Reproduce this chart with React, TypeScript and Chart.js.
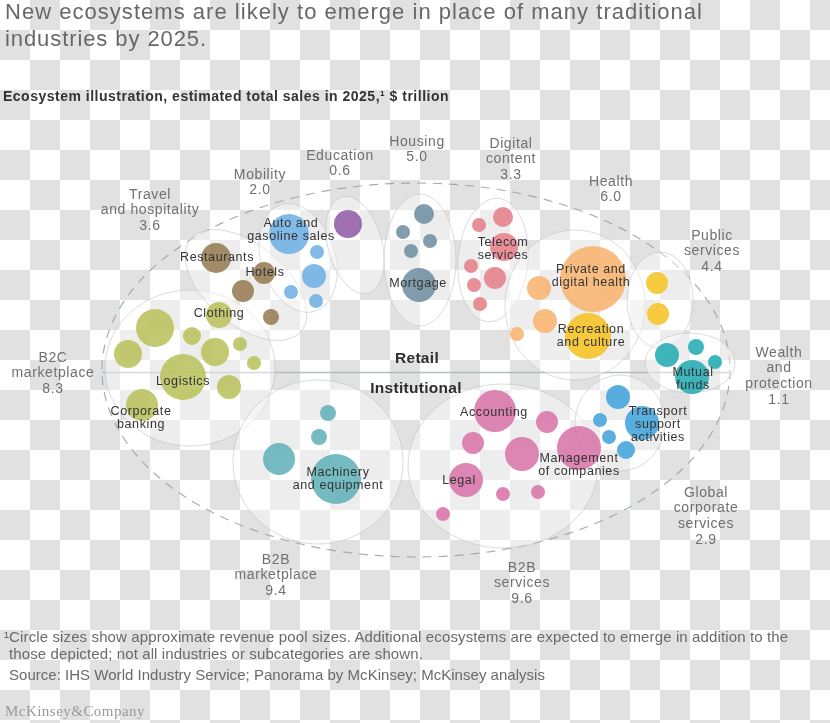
import React, { useEffect, useRef, useMemo } from "react";
import { Chart, registerables } from "chart.js";
Chart.register(...registerables);

const W = 830;
const H = 723;

// ---- Data ----
const ecosystemLines = [
  ["Travel", "and hospitality"],
  ["Mobility"],
  ["Education"],
  ["Housing"],
  ["Digital", "content"],
  ["Health"],
  ["Public", "services"],
  ["Wealth", "and", "protection"],
  ["Global", "corporate", "services"],
  ["B2B", "services"],
  ["B2B", "marketplace"],
  ["B2C", "marketplace"],
];
const ecosystemSales = [3.6, 2.0, 0.6, 5.0, 3.3, 6.0, 4.4, 1.1, 2.9, 9.6, 9.4, 8.3];

const subLabels = [
  ["Auto and", "gasoline sales"],
  ["Restaurants"],
  ["Hotels"],
  ["Clothing"],
  ["Mortgage"],
  ["Telecom", "services"],
  ["Private and", "digital health"],
  ["Recreation", "and culture"],
  ["Mutual", "funds"],
  ["Logistics"],
  ["Corporate", "banking"],
  ["Machinery", "and equipment"],
  ["Accounting"],
  ["Management", "of companies"],
  ["Legal"],
  ["Transport", "support", "activities"],
];

// bubbles: [x, y, radius] in illustration coordinates
const travelBubbles = [[216, 258, 15], [264, 273, 11], [243, 291, 11], [271, 317, 8]];
const mobilityBubbles = [[289, 234, 20], [317, 252, 7], [314, 276, 12], [291, 292, 7], [316, 301, 7]];
const educationBubbles = [[348, 224, 14]];
const housingBubbles = [[424, 214, 10], [403, 232, 7], [430, 241, 7], [411, 251, 7], [419, 285, 17]];
const digitalBubbles = [[503, 217, 10], [479, 225, 7], [504, 247, 14], [471, 266, 7], [495, 278, 11], [474, 285, 7], [480, 304, 7]];
const healthBubbles = [[593, 279, 33], [539, 288, 12], [545, 321, 12], [517, 334, 7]];
const recreationBubbles = [[588, 336, 23]];
const publicBubbles = [[657, 283, 11], [658, 314, 11]];
const wealthBubbles = [[667, 355, 12], [696, 347, 8], [715, 362, 7], [692, 377, 17]];
const b2cBubbles = [[155, 328, 19], [219, 315, 13], [192, 336, 9], [128, 354, 14], [215, 352, 14], [240, 344, 7], [254, 363, 7], [183, 377, 23], [229, 387, 12], [142, 405, 16]];
const b2bMarketBubbles = [[328, 413, 8], [319, 437, 8], [279, 459, 16], [336, 479, 25]];
const b2bServiceBubbles = [[495, 411, 21], [547, 422, 11], [473, 443, 11], [522, 454, 17], [579, 448, 22], [466, 480, 17], [503, 494, 7], [538, 492, 7], [443, 514, 7]];
const globalBubbles = [[618, 397, 12], [600, 420, 7], [642, 423, 17], [609, 437, 7], [626, 450, 9]];

// ---- Layout (positions / styles) ----
const ecosystemLabelPos = [[150, 195], [260, 175], [340, 156], [417, 142], [511, 144], [611, 182], [712, 236], [779, 353], [706, 493], [522, 568], [276, 560], [53, 358]];
const subLabelPos = [[291, 224], [217, 258], [265, 273], [219, 314], [418, 284], [503, 243], [591, 270], [591, 330], [693, 373], [183, 382], [141, 412], [338, 473], [494, 413], [579, 459], [459, 481], [658, 412]];
// cluster blobs: [cx, cy, rx, ry, rotationDeg]
const blobs = [
  [190, 368, 85, 78, 0],
  [246, 285, 72, 40, 40],
  [298, 258, 37, 56, -18],
  [355, 245, 27, 50, -15],
  [420, 260, 36, 66, 0],
  [493, 260, 35, 62, 5],
  [575, 305, 70, 75, 0],
  [660, 300, 33, 48, 0],
  [690, 363, 45, 30, 0],
  [318, 462, 85, 82, 0],
  [503, 466, 95, 82, 0],
  [620, 423, 45, 48, 0],
];

const groups = [
  { data: travelBubbles, color: "rgba(150,124,82,0.88)" },
  { data: mobilityBubbles, color: "rgba(112,176,228,0.88)" },
  { data: educationBubbles, color: "rgba(150,98,170,0.9)" },
  { data: housingBubbles, color: "rgba(112,142,162,0.88)" },
  { data: digitalBubbles, color: "rgba(230,128,138,0.88)" },
  { data: healthBubbles, color: "rgba(248,180,112,0.88)" },
  { data: recreationBubbles, color: "rgba(245,195,40,0.9)" },
  { data: publicBubbles, color: "rgba(245,197,45,0.9)" },
  { data: wealthBubbles, color: "rgba(36,172,178,0.88)" },
  { data: b2cBubbles, color: "rgba(185,192,88,0.86)" },
  { data: b2bMarketBubbles, color: "rgba(100,178,186,0.88)" },
  { data: b2bServiceBubbles, color: "rgba(216,116,168,0.88)" },
  { data: globalBubbles, color: "rgba(66,164,220,0.88)" },
];

const SANS = "'Liberation Sans', Arial, Helvetica, sans-serif";
const NARROW = "'Liberation Sans Narrow', 'Arial Narrow', 'Liberation Sans', Arial, sans-serif";

const decor = {
  id: "decor",
  beforeDatasetsDraw(chart: any) {
    const { ctx, scales } = chart;
    const xs = scales.x, ys = scales.y;
    const px = (v: number) => xs.getPixelForValue(v);
    const py = (v: number) => ys.getPixelForValue(v);
    const sx = Math.abs(px(1) - px(0));
    const sy = Math.abs(py(1) - py(0));
    ctx.save();
    // outer dashed ellipse
    ctx.beginPath();
    ctx.ellipse(px(416), py(370), 314 * sx, 187 * sy, 0, 0, Math.PI * 2);
    ctx.setLineDash([9, 7]);
    ctx.strokeStyle = "rgba(150,166,175,0.9)";
    ctx.lineWidth = 1.2;
    ctx.stroke();
    ctx.setLineDash([]);
    // retail / institutional divider
    ctx.beginPath();
    ctx.moveTo(px(102), py(372.5));
    ctx.lineTo(px(731), py(372.5));
    ctx.strokeStyle = "rgba(175,185,190,0.95)";
    ctx.lineWidth = 1.5;
    ctx.stroke();
    // blobs
    blobs.forEach(([cx, cy, rx, ry, rot]) => {
      ctx.beginPath();
      ctx.ellipse(px(cx), py(cy), rx * sx, ry * sy, (rot * Math.PI) / 180, 0, Math.PI * 2);
      ctx.fillStyle = "rgba(255,255,255,0.42)";
      ctx.fill();
      ctx.strokeStyle = "rgba(190,190,190,0.55)";
      ctx.lineWidth = 1;
      ctx.stroke();
    });
    ctx.restore();
  },
  afterDatasetsDraw(chart: any) {
    const { ctx, scales } = chart;
    const px = (v: number) => scales.x.getPixelForValue(v);
    const py = (v: number) => scales.y.getPixelForValue(v);
    ctx.save();
    ctx.textAlign = "center";
    ctx.textBaseline = "middle";
    // ecosystem labels
    ctx.font = `14px ${SANS}`;
    (ctx as any).letterSpacing = "0.6px";
    ctx.fillStyle = "#707070";
    ecosystemLines.forEach((lines, i) => {
      const [x, y] = ecosystemLabelPos[i];
      const all = [...lines, ecosystemSales[i].toFixed(1)];
      all.forEach((t, j) => ctx.fillText(t, px(x), py(y + j * 15.6)));
    });
    // sub labels
    ctx.font = `12.5px ${SANS}`;
    (ctx as any).letterSpacing = "0.6px";
    ctx.fillStyle = "#333333";
    subLabels.forEach((lines, i) => {
      const [x, y] = subLabelPos[i];
      lines.forEach((t, j) => ctx.fillText(t, px(x), py(y + j * 13)));
    });
    // retail / institutional
    ctx.font = `bold 15.5px ${SANS}`;
    (ctx as any).letterSpacing = "0.3px";
    ctx.fillStyle = "#2e2e2e";
    ctx.fillText("Retail", px(417), py(359));
    ctx.fillText("Institutional", px(416), py(389));
    ctx.restore();
  },
};

function spacingFor(text: string, font: string, target: number) {
  const c = document.createElement("canvas");
  const ctx = c.getContext("2d")!;
  ctx.font = font;
  const w = ctx.measureText(text).width;
  return (target - w) / Math.max(1, text.length);
}

function Line(props: { text: string; left: number; cy: number; size: number; weight?: string; family?: string; color: string; width: number }) {
  const { text, left, cy, size, weight = "normal", family = SANS, color, width } = props;
  const font = `${weight} ${size}px ${family}`;
  const ls = useMemo(() => spacingFor(text, font, width), [text, font, width]);
  return (
    <div
      style={{
        position: "absolute",
        left,
        top: cy - size * 0.6,
        font,
        lineHeight: `${size * 1.2}px`,
        color,
        whiteSpace: "pre",
        letterSpacing: `${ls}px`,
      }}
    >
      {text}
    </div>
  );
}

export default function App() {
  const ref = useRef<HTMLCanvasElement | null>(null);
  useEffect(() => {
    if (!ref.current) return;
    const chart = new Chart(ref.current, {
      type: "bubble",
      data: {
        datasets: groups.map((g) => ({
          data: g.data.map(([x, y, r]) => ({ x, y, r })),
          backgroundColor: g.color,
          borderWidth: 0,
          hoverRadius: 0,
          clip: false as any,
        })),
      },
      options: {
        animation: false,
        responsive: false,
        events: [],
        layout: { padding: 0, autoPadding: false },
        plugins: { legend: { display: false }, tooltip: { enabled: false } },
        scales: {
          x: { type: "linear", min: 0, max: W, display: false },
          y: { type: "linear", min: 0, max: H, reverse: true, display: false },
        },
      },
      plugins: [decor],
    });
    return () => chart.destroy();
  }, []);

  return (
    <div
      style={{
        position: "absolute",
        left: 0,
        top: 0,
        width: W,
        height: H,
        overflow: "hidden",
        backgroundColor: "#ffffff",
        backgroundImage: "repeating-conic-gradient(#e1e1e1 0 25%, #ffffff 0 50%)",
        backgroundSize: "60px 60px",
      }}
    >
      <canvas ref={ref} width={W} height={H} style={{ position: "absolute", left: 0, top: 0, width: W, height: H }} />
      <Line text="New ecosystems are likely to emerge in place of many traditional" left={5} cy={12} size={22} color="#676767" width={698} />
      <Line text="industries by 2025." left={5} cy={39} size={22} color="#676767" width={202} />
      <Line text="Ecosystem illustration, estimated total sales in 2025,¹ $ trillion" left={3} cy={96} size={14} weight="bold" color="#333333" width={446} />
      <Line text="¹Circle sizes show approximate revenue pool sizes. Additional ecosystems are expected to emerge in addition to the" left={4} cy={637} size={15} family={NARROW} color="#6a6a6a" width={785} />
      <Line text="those depicted; not all industries or subcategories are shown." left={9} cy={654} size={15} family={NARROW} color="#6a6a6a" width={414} />
      <Line text="Source: IHS World Industry Service; Panorama by McKinsey; McKinsey analysis" left={9} cy={675} size={15} family={NARROW} color="#6a6a6a" width={536} />
      <Line text="McKinsey&Company" left={5} cy={711} size={15} family="'Liberation Serif', 'DejaVu Serif', serif" color="#9a9a9a" width={140} />
    </div>
  );
}
